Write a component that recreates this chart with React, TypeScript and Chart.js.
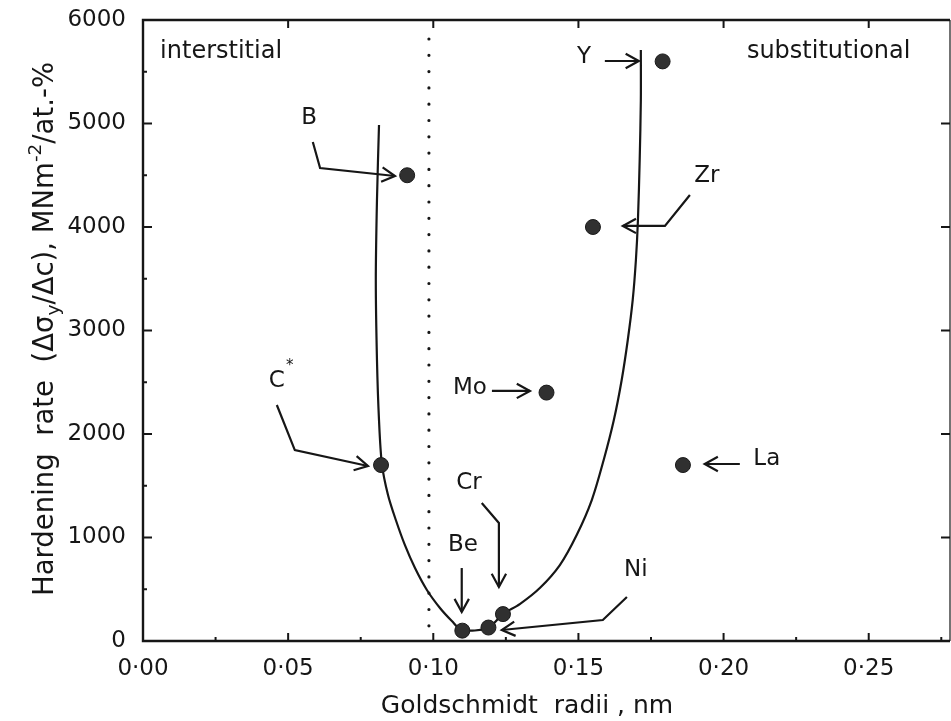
import React, { useEffect, useRef } from 'react';
import { Chart, registerables } from 'chart.js';

Chart.register(...registerables);

// ---- data ----
const elements = ['B', 'Zr', 'Y', 'C', 'Mo', 'La', 'Be', 'Ni', 'Cr'];
const radii = [0.091, 0.155, 0.179, 0.082, 0.139, 0.186, 0.110, 0.119, 0.124];
const rates = [4500, 4000, 5600, 1700, 2400, 1700, 100, 130, 260];

// fitted curve (hand-drawn line in the original), read point by point
const curveX = [
  0.0813, 0.0806, 0.0802, 0.0806, 0.0813, 0.0823, 0.0844, 0.0871, 0.0902, 0.0937, 0.0978, 0.1023, 0.1064, 0.1098,
  0.1188, 0.1240,
  0.1298, 0.1367, 0.1436, 0.1494, 0.1546, 0.1587, 0.1622, 0.1649, 0.1670, 0.1687, 0.1698, 0.1705, 0.1711, 0.1715, 0.1715,
];
const curveY = [
  4986, 4261, 3488, 2715, 2135, 1710, 1411, 1169, 928, 705, 493, 319, 193, 106,
  126, 261,
  357, 512, 734, 1024, 1362, 1749, 2135, 2522, 2908, 3295, 3681, 4068, 4647, 5227, 5710,
];

const xTicks = [0, 0.05, 0.10, 0.15, 0.20, 0.25];
const xMinorTicks = [0.025, 0.075, 0.125, 0.175, 0.225, 0.275];
const yTicks = [0, 1000, 2000, 3000, 4000, 5000, 6000];
const yMinorTicks = [500, 1500, 2500, 3500, 4500, 5500];
const boundaryRadius = 0.0985;

// labels and leader arrows, in data units
const annotations: { text: string; star?: boolean; at: [number, number]; path: [number, number][] }[] = [
  { text: 'Y', at: [0.1519, 5643], path: [[0.1591, 5604], [0.1708, 5604]] },
  { text: 'Zr', at: [0.1942, 4493], path: [[0.1884, 4309], [0.1798, 4010], [0.1653, 4010]] },
  { text: 'B', at: [0.0572, 5053], path: [[0.0585, 4821], [0.0610, 4570], [0.0868, 4493]] },
  { text: 'C', star: true, at: [0.0461, 2512], path: [[0.0461, 2280], [0.0523, 1845], [0.0775, 1691]] },
  { text: 'Mo', at: [0.1126, 2444], path: [[0.1202, 2416], [0.1333, 2416]] },
  { text: 'La', at: [0.2149, 1758], path: [[0.2056, 1710], [0.1935, 1710]] },
  { text: 'Cr', at: [0.1123, 1527], path: [[0.1167, 1333], [0.1226, 1140], [0.1226, 522]] },
  { text: 'Be', at: [0.1102, 928], path: [[0.1098, 705], [0.1098, 280]] },
  { text: 'Ni', at: [0.1698, 686], path: [[0.1667, 425], [0.1584, 203], [0.1236, 106]] },
];
const regionLabels: { text: string; at: [number, number] }[] = [
  { text: 'interstitial', at: [0.0269, 5691] },
  { text: 'substitutional', at: [0.2362, 5691] },
];

const FONT = '"DejaVu Sans", "Liberation Sans", sans-serif';
const INK = '#161616';

function drawArrow(ctx: CanvasRenderingContext2D, pts: [number, number][]) {
  ctx.beginPath();
  ctx.moveTo(pts[0][0], pts[0][1]);
  for (let i = 1; i < pts.length; i++) ctx.lineTo(pts[i][0], pts[i][1]);
  ctx.stroke();
  const [x1, y1] = pts[pts.length - 2];
  const [x2, y2] = pts[pts.length - 1];
  const ang = Math.atan2(y2 - y1, x2 - x1);
  const L = 15, a = 0.5;
  ctx.beginPath();
  ctx.moveTo(x2 - L * Math.cos(ang - a), y2 - L * Math.sin(ang - a));
  ctx.lineTo(x2, y2);
  ctx.lineTo(x2 - L * Math.cos(ang + a), y2 - L * Math.sin(ang + a));
  ctx.stroke();
}

const decorPlugin = {
  id: 'decor',
  beforeDatasetsDraw(chart: any) {
    const { ctx, chartArea: ca, scales } = chart;
    const xs = scales.x, ys = scales.y;
    ctx.save();
    ctx.strokeStyle = INK;
    // dotted boundary
    const bx = xs.getPixelForValue(boundaryRadius);
    ctx.lineWidth = 3.2;
    ctx.lineCap = 'round';
    ctx.setLineDash([0, 16.3]);
    ctx.beginPath();
    ctx.moveTo(bx, ca.top + 19);
    ctx.lineTo(bx, ca.bottom);
    ctx.stroke();
    ctx.setLineDash([]);
    ctx.lineCap = 'butt';
    // frame
    ctx.lineWidth = 2.4;
    ctx.beginPath();
    ctx.moveTo(ca.right, ca.top);
    ctx.lineTo(ca.left, ca.top);
    ctx.lineTo(ca.left, ca.bottom);
    ctx.lineTo(ca.right, ca.bottom);
    ctx.stroke();
    ctx.lineWidth = 1.2;
    ctx.beginPath();
    ctx.moveTo(ca.right, ca.top);
    ctx.lineTo(ca.right, ca.bottom);
    ctx.stroke();
    // ticks
    ctx.lineWidth = 2;
    ctx.beginPath();
    xTicks.forEach((v) => {
      const p = xs.getPixelForValue(v);
      ctx.moveTo(p, ca.bottom); ctx.lineTo(p, ca.bottom - 8);
      ctx.moveTo(p, ca.top); ctx.lineTo(p, ca.top + 8);
    });
    xMinorTicks.forEach((v) => {
      const p = xs.getPixelForValue(v);
      if (p < ca.right) { ctx.moveTo(p, ca.bottom); ctx.lineTo(p, ca.bottom - 4); }
    });
    yTicks.forEach((v) => {
      const p = ys.getPixelForValue(v);
      ctx.moveTo(ca.left, p); ctx.lineTo(ca.left + 9, p);
      ctx.moveTo(ca.right, p); ctx.lineTo(ca.right - 9, p);
    });
    yMinorTicks.forEach((v) => {
      const p = ys.getPixelForValue(v);
      ctx.moveTo(ca.left, p); ctx.lineTo(ca.left + 4, p);
    });
    ctx.stroke();
    ctx.restore();
  },
  afterDatasetsDraw(chart: any) {
    const { ctx, scales } = chart;
    const xs = scales.x, ys = scales.y;
    const px = (d: [number, number]): [number, number] => [xs.getPixelForValue(d[0]), ys.getPixelForValue(d[1])];
    ctx.save();
    ctx.strokeStyle = INK;
    ctx.fillStyle = INK;
    ctx.lineWidth = 2.2;
    ctx.lineJoin = 'miter';
    ctx.font = `23px ${FONT}`;
    ctx.textAlign = 'center';
    ctx.textBaseline = 'middle';
    annotations.forEach((a) => {
      drawArrow(ctx, a.path.map(px));
      const [tx, ty] = px(a.at);
      ctx.fillText(a.text, tx, ty);
      if (a.star) {
        ctx.font = `15px ${FONT}`;
        ctx.fillText('*', tx + 13, ty - 15);
        ctx.font = `23px ${FONT}`;
      }
    });
    ctx.font = `24px ${FONT}`;
    regionLabels.forEach((r) => {
      const [tx, ty] = px(r.at);
      ctx.fillText(r.text, tx, ty);
    });
    // x-axis title
    ctx.font = `25px ${FONT}`;
    ctx.textBaseline = 'alphabetic';
    ctx.fillText('Goldschmidt  radii , nm', 527, 713);
    // y-axis title with sub/superscripts
    const big = `27.5px ${FONT}`, small = `18.5px ${FONT}`;
    const parts: { t: string; f: string; dy: number }[] = [
      { t: 'Hardening  rate  (Δσ', f: big, dy: 0 },
      { t: 'y', f: small, dy: 6 },
      { t: '/Δc), MNm', f: big, dy: 0 },
      { t: '-2', f: small, dy: -12 },
      { t: '/at.-%', f: big, dy: 0 },
    ];
    let total = 0;
    parts.forEach((p) => { ctx.font = p.f; total += ctx.measureText(p.t).width; });
    ctx.translate(53, 329);
    ctx.rotate(-Math.PI / 2);
    ctx.textAlign = 'left';
    let x = -total / 2;
    parts.forEach((p) => {
      ctx.font = p.f;
      ctx.fillText(p.t, x, p.dy);
      x += ctx.measureText(p.t).width;
    });
    ctx.restore();
  },
};

export default function App() {
  const ref = useRef<HTMLCanvasElement | null>(null);
  useEffect(() => {
    if (!ref.current) return;
    const chart = new Chart(ref.current, {
      type: 'scatter',
      data: {
        datasets: [
          {
            type: 'line',
            label: 'fit',
            data: curveX.map((x, i) => ({ x, y: curveY[i] })),
            borderColor: INK,
            borderWidth: 2.2,
            pointRadius: 0,
            tension: 0.3,
            fill: false,
            order: 2,
          } as any,
          {
            type: 'scatter',
            label: 'solutes',
            data: radii.map((x, i) => ({ x, y: rates[i], name: elements[i] })),
            backgroundColor: '#303030',
            borderColor: '#1a1a1a',
            borderWidth: 1,
            pointRadius: 7.5,
            order: 1,
          },
        ],
      },
      options: {
        responsive: false,
        animation: false,
        layout: { autoPadding: false, padding: { top: 20, right: 1, left: 0, bottom: 0 } },
        plugins: { legend: { display: false }, tooltip: { enabled: false } },
        scales: {
          x: {
            type: 'linear',
            min: 0,
            max: 0.278,
            grid: { display: false, drawTicks: false },
            border: { display: false },
            afterBuildTicks: (s: any) => { s.ticks = xTicks.map((v) => ({ value: v })); },
            afterFit: (s: any) => { s.height = 80; s.paddingLeft = 0; s.paddingRight = 0; },
            ticks: {
              padding: 14,
              color: INK,
              font: { family: FONT, size: 23 },
              callback: (v: any) => Number(v).toFixed(2).replace('.', '·'),
            },
          },
          y: {
            type: 'linear',
            min: 0,
            max: 6000,
            grid: { display: false, drawTicks: false },
            border: { display: false },
            afterBuildTicks: (s: any) => { s.ticks = yTicks.map((v) => ({ value: v })); },
            afterFit: (s: any) => { s.width = 143; s.paddingTop = 0; s.paddingBottom = 0; },
            ticks: {
              padding: 17,
              color: INK,
              font: { family: FONT, size: 23 },
              callback: (v: any) => String(v),
            },
          },
        },
      },
      plugins: [decorPlugin],
    } as any);
    return () => chart.destroy();
  }, []);
  return (
    <div style={{ position: 'absolute', left: 0, top: 0, width: 951, height: 721, background: '#fff' }}>
      <canvas ref={ref} width={951} height={721} style={{ display: 'block' }} />
    </div>
  );
}
